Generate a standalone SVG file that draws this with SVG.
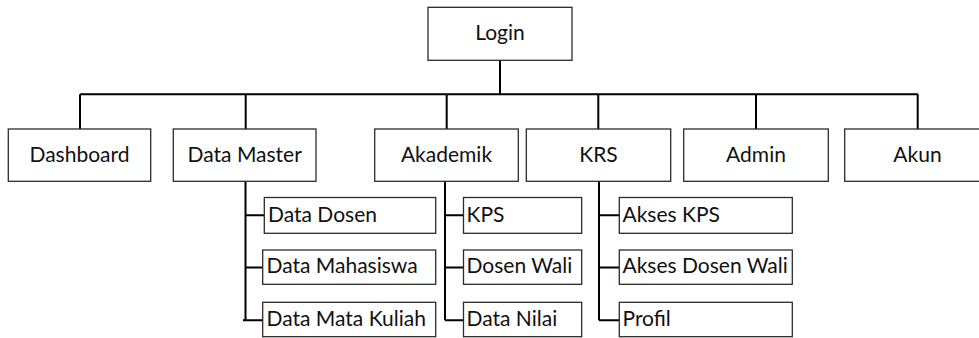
<svg xmlns="http://www.w3.org/2000/svg" width="979" height="338" viewBox="0 0 979 338">
  <style>
    .box { fill: #ffffff; stroke: #2b2b2b; stroke-width: 1.3; }
    .lbl { font-family: Lato, "Open Sans", "Liberation Sans", sans-serif; font-size: 21px; fill: #111111; }
    .mid { text-anchor: middle; }
    .wire { fill: none; stroke: #000000; stroke-width: 2; }
  </style>
  <rect width="979" height="338" fill="#ffffff"/>

  <!-- connectors -->
  <g id="connectors" class="wire">
    <path d="M500 60.3 V94.3 M80 94.3 H918 M80 94.3 V129 M245.7 94.3 V129 M446.7 94.3 V129 M598.3 94.3 V129 M756 94.3 V129 M917.7 94.3 V129"/>
    <path d="M245.5 181.3 V320.3 M245.5 215.3 H264.3 M245.5 267.5 H262.7 M243 320.3 H262.7"/>
    <path d="M445 181.3 V320.3 M445 215.3 H463.5 M445 267.5 H463.5 M445 320.3 H463.5"/>
    <path d="M599 181.3 V320.3 M599 215.3 H619.3 M599 267.5 H619.3 M599 320.3 H619.3"/>
  </g>

  <!-- root -->
  <g id="login">
    <rect class="box" x="428" y="7.3" width="144" height="53"/>
    <text class="lbl mid" x="500" y="40">Login</text>
  </g>

  <!-- top-level menu -->
  <g id="dashboard">
    <rect class="box" x="8.3" y="129" width="142.4" height="52.3"/>
    <text class="lbl mid" x="79.5" y="161.7">Dashboard</text>
  </g>
  <g id="data-master">
    <rect class="box" x="173.3" y="129" width="142.7" height="52.3"/>
    <text class="lbl mid" x="244.7" y="161.7">Data Master</text>
  </g>
  <g id="akademik">
    <rect class="box" x="374.7" y="129" width="143.6" height="52.3"/>
    <text class="lbl mid" x="446.5" y="161.7">Akademik</text>
  </g>
  <g id="krs">
    <rect class="box" x="526.3" y="129" width="144.4" height="52.3"/>
    <text class="lbl mid" x="598.5" y="161.7">KRS</text>
  </g>
  <g id="admin">
    <rect class="box" x="683.7" y="129" width="144.6" height="52.3"/>
    <text class="lbl mid" x="756" y="161.7">Admin</text>
  </g>
  <g id="akun">
    <rect class="box" x="844.7" y="129" width="145" height="52.3"/>
    <text class="lbl mid" x="917.5" y="161.7">Akun</text>
  </g>

  <!-- Data Master submenu -->
  <g id="data-dosen">
    <rect class="box" x="264.3" y="197.5" width="171.4" height="35.8"/>
    <text class="lbl" x="268" y="221.7">Data Dosen</text>
  </g>
  <g id="data-mahasiswa">
    <rect class="box" x="262.7" y="250" width="173" height="34.3"/>
    <text class="lbl" x="266.5" y="273.3">Data Mahasiswa</text>
  </g>
  <g id="data-mata-kuliah">
    <rect class="box" x="262.7" y="302.3" width="173" height="34.4"/>
    <text class="lbl" x="266.5" y="325.7">Data Mata Kuliah</text>
  </g>

  <!-- Akademik submenu -->
  <g id="kps">
    <rect class="box" x="463.5" y="197.5" width="118.2" height="35.8"/>
    <text class="lbl" x="466.5" y="221.7">KPS</text>
  </g>
  <g id="dosen-wali">
    <rect class="box" x="463.5" y="250" width="118.2" height="34.3"/>
    <text class="lbl" x="466.5" y="273.3">Dosen Wali</text>
  </g>
  <g id="data-nilai">
    <rect class="box" x="463.5" y="302.3" width="118.2" height="34.4"/>
    <text class="lbl" x="466.5" y="325.7">Data Nilai</text>
  </g>

  <!-- KRS submenu -->
  <g id="akses-kps">
    <rect class="box" x="619.3" y="197.5" width="173" height="35.8"/>
    <text class="lbl" x="622.5" y="221.7">Akses KPS</text>
  </g>
  <g id="akses-dosen-wali">
    <rect class="box" x="619.3" y="250" width="173" height="34.3"/>
    <text class="lbl" x="622.5" y="273.3">Akses Dosen Wali</text>
  </g>
  <g id="profil">
    <rect class="box" x="619.3" y="302.3" width="173" height="34.4"/>
    <text class="lbl" x="622.5" y="325.7">Profil</text>
  </g>
</svg>
